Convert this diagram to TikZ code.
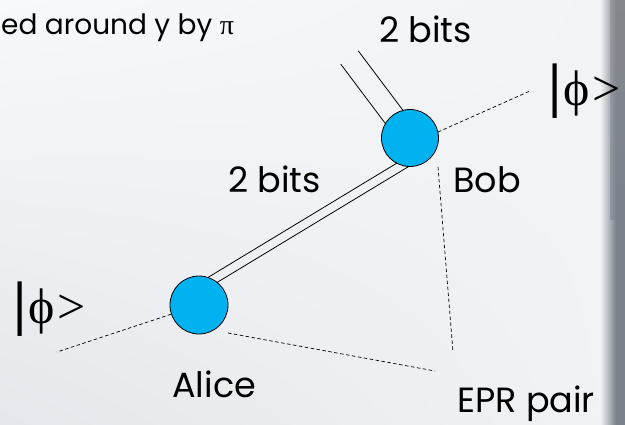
\documentclass[tikz,border=0pt]{standalone}
\usepackage{fontspec}
\setmainfont{Poppins}
\newfontfamily\greekserif{Liberation Serif}
\usetikzlibrary{calc,shadings}
\definecolor{partyblue}{HTML}{00B2F0}
\definecolor{slidebg}{HTML}{F2F3F5}
\definecolor{paperlight}{HTML}{F8F9FA}
\definecolor{papershade}{HTML}{E4E7EB}
\definecolor{edge}{HTML}{7C838D}
\pgfdeclarelayer{paper}
\pgfdeclarelayer{wires}
\pgfsetlayers{paper,wires,main}
\begin{document}
\begin{tikzpicture}[x=1pt,y=-1pt,
  party/.style={circle,draw=black,line width=0.8pt,fill=partyblue,minimum size=57pt,inner sep=0pt},
  wire/.style={line width=0.8pt,black},
  quantum/.style={line width=0.7pt,black,dash pattern=on 3.5pt off 2.5pt},
  hand/.style={font=\fontsize{35}{35}\selectfont,inner sep=0pt,anchor=base west},
  ket/.style={inner sep=0pt,anchor=base west}]
\useasboundingbox (0,0) rectangle (625,425);

% paper: soft diagonal shading and a darker right rim
\begin{pgfonlayer}{paper}
  \begin{scope}
    \clip (0,0) rectangle (625,425);
    \shade[upper left=paperlight,upper right=slidebg,lower left=papershade,lower right=slidebg]
      (0,0) rectangle (625,425);
    \shade[left color=slidebg,right color=edge] (600,0) rectangle (616,425);
    \fill[edge] (616,0) rectangle (625,425);
    \shade[top color=black!45,bottom color=edge,opacity=0.5] (610,0) rectangle (625,220);
  \end{scope}
\end{pgfonlayer}

% the two parties
\node[party] (bob) at (410,138) {};
\node[party,minimum size=58pt] (alice) at (199,305) {};

% labels
\node[hand,font=\fontsize{28}{28}\selectfont] (caption) at (1,35) {ed around y by {\greekserif π}};
\node[hand] (bitsin) at (379,43) {2 bits};
\node[hand] (bitsmid) at (228,193) {2 bits};
\node[hand] (bobname) at (453,193) {Bob};
\node[hand] (alicename) at (172,398) {Alice};
\node[hand] (eprname) at (457,413) {EPR pair};
\node[ket] (ketright) at (548,106) {\greekserif{\fontsize{60}{60}\selectfont\bfseries|}{\fontsize{50}{50}\selectfont\kern2pt ϕ\kern3pt>}};
\node[ket] (ketleft) at (13,324) {\greekserif{\fontsize{60}{60}\selectfont\bfseries|}{\fontsize{50}{50}\selectfont\kern2pt ϕ\kern3pt>}};

% end points of the classical and quantum links
\coordinate (wa) at (203,285.7);
\coordinate (wb) at (409.4,160.8);
\coordinate (feed) at (349.5,57.5);
\coordinate (bobout) at (438,132);
\coordinate (ketrtail) at (530,91);
\coordinate (ketltail) at (57,352);
\coordinate (bobdown) at (438,167);
\coordinate (eprb) at (453,352);
\coordinate (alicedown) at (228,333);
\coordinate (epra) at (435,371);

\begin{pgfonlayer}{wires}
  % classical channel Alice -> Bob (two bits)
  \draw[wire] ($(wa)!4.5pt!90:(wb)$) -- ($(wb)!4.5pt!-90:(wa)$);
  \draw[wire] ($(wa)!4.5pt!-90:(wb)$) -- ($(wb)!4.5pt!90:(wa)$);
  % two bits arriving at Bob
  \draw[wire] ($(feed)!11pt!90:(bob.center)$) -- ($(bob.center)!11pt!-90:(feed)$);
  \draw[wire] ($(feed)!11pt!-90:(bob.center)$) -- ($(bob.center)!11pt!90:(feed)$);
\end{pgfonlayer}

% quantum links
\draw[quantum] (bobout) -- (ketrtail);
\draw[quantum] (alice) -- (ketltail);
\draw[quantum] (bobdown) -- (eprb);
\draw[quantum] (alicedown) -- (epra);
\end{tikzpicture}
\end{document}
